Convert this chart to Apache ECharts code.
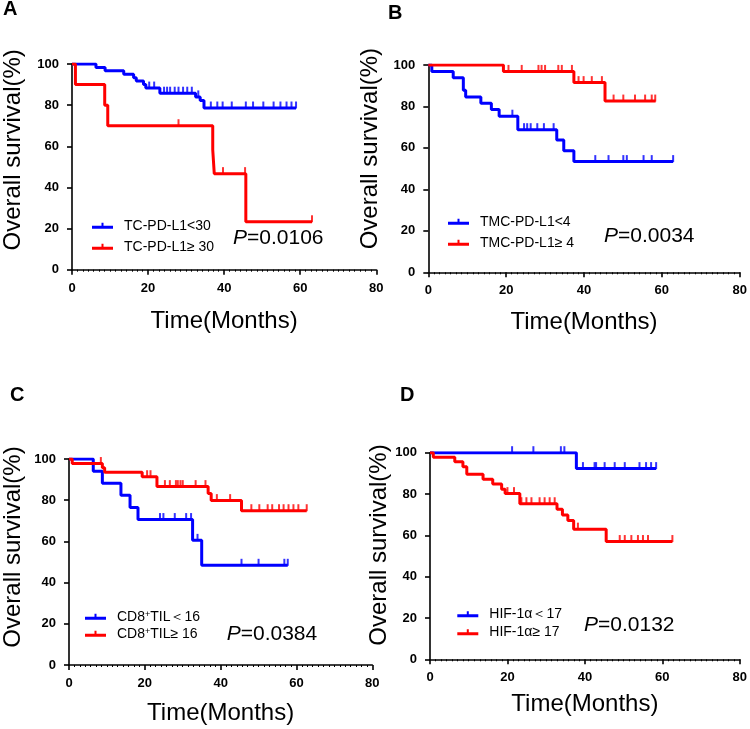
<!DOCTYPE html>
<html><head><meta charset="utf-8">
<script src="https://cdn.jsdelivr.net/npm/echarts@6/dist/echarts.min.js"></script>
<style>html,body{margin:0;padding:0;background:#fff}#c{width:750px;height:729px}</style>
</head><body><div id="c"></div>
<script>
// ---------- Panel A ----------
const A_blueT = [0, 6.3, 8.7, 13.6, 16.2, 16.9, 18.8, 19.4, 23.1, 32.5, 33.7, 34.7, 58.9];
const A_blueS = [100, 98.3, 96.7, 95, 93.3, 91.7, 90, 88.3, 85.8, 84.0, 82.3, 78.6, 78.6];
const A_blueCens = [[20.3,88.3],[21.6,88.3],[24.2,85.8],[25.0,85.8],[25.8,85.8],[27.0,85.8],[28.0,85.8],[29.2,85.8],[30.3,85.8],[31.5,85.8],[33.2,84.0],[36.5,78.6],[38.2,78.6],[39.6,78.6],[42.0,78.6],[45.7,78.6],[47.6,78.6],[50.3,78.6],[53.0,78.6],[54.8,78.6],[56.4,78.6],[57.7,78.6],[58.9,78.6]];
const A_redT = [0, 0.9, 8.6, 9.4, 37.0, 37.4, 45.7, 63.1];
const A_redS = [100, 90, 80, 70, 58.3, 46.7, 23.3, 23.3];
const A_redCens = [[28.0,70],[39.7,46.7],[45.5,46.7],[63.1,23.3]];
// ---------- Panel B ----------
const B_blueT = [0, 0.9, 6.4, 9.0, 9.6, 13.5, 16.2, 18.2, 23.0, 33.0, 34.8, 37.4, 62.9];
const B_blueS = [100, 96.9, 93.8, 87.8, 84.6, 81.6, 78.5, 75.3, 68.8, 63.8, 58.6, 53.4, 53.4];
const B_blueCens = [[21.6,75.3],[24.6,68.8],[25.4,68.8],[26.3,68.8],[28.0,68.8],[29.7,68.8],[32.2,68.8],[42.9,53.4],[46.3,53.4],[50.1,53.4],[51.0,53.4],[55.3,53.4],[57.4,53.4],[62.9,53.4]];
const B_redT = [0, 19.3, 37.4, 45.4, 58.4];
const B_redS = [100, 96.9, 91.5, 82.6, 82.6];
const B_redCens = [[20.6,96.9],[24.0,96.9],[28.3,96.9],[29.1,96.9],[30.0,96.9],[33.4,96.9],[34.3,96.9],[36.9,96.9],[38.6,91.5],[39.9,91.5],[42.0,91.5],[44.6,91.5],[47.6,82.6],[50.1,82.6],[53.1,82.6],[55.7,82.6],[57.4,82.6],[58.3,82.6]];
// ---------- Panel C ----------
const C_blueT = [0, 6.4, 8.8, 13.7, 16.1, 18.2, 32.6, 35.0, 57.7];
const C_blueS = [100, 94.1, 88.2, 82.4, 76.5, 70.6, 60.5, 48.4, 48.4];
const C_blueCens = [[24.0,70.6],[24.9,70.6],[27.9,70.6],[30.9,70.6],[32.2,70.6],[33.9,60.5],[45.5,48.4],[50.0,48.4],[56.8,48.4],[57.7,48.4]];
const C_redT = [0, 0.85, 8.8, 9.4, 19.3, 23.2, 36.7, 37.5, 45.5, 62.7];
const C_redS = [100, 97.8, 95.8, 93.6, 91.4, 86.6, 83.3, 79.8, 74.9, 74.9];
const C_redCens = [[8.4,97.8],[20.6,91.4],[21.5,91.4],[25.3,86.6],[26.6,86.6],[28.2,86.6],[28.7,86.6],[29.4,86.6],[30.0,86.6],[33.4,86.6],[36.0,86.6],[39.0,79.8],[42.5,79.8],[48.1,74.9],[50.2,74.9],[52.4,74.9],[53.6,74.9],[55.4,74.9],[56.6,74.9],[57.9,74.9],[59.2,74.9],[60.5,74.9],[62.7,74.9]];
// ---------- Panel D ----------
const D_blueT = [0, 37.8, 58.4];
const D_blueS = [100, 92.3, 92.3];
const D_blueCens = [[21.2,100],[26.7,100],[33.8,100],[34.7,100],[39.5,92.3],[42.5,92.3],[42.9,92.3],[45.1,92.3],[47.7,92.3],[50.3,92.3],[54.1,92.3],[55.8,92.3],[57.1,92.3],[58.4,92.3]];
const D_redT = [0, 0.85, 6.4, 8.5, 9.5, 13.7, 16.2, 18.5, 19.4, 23.2, 32.8, 34.2, 35.6, 37.1, 45.5, 62.6];
const D_redS = [100, 97.8, 95.6, 93.2, 89.6, 87.2, 84.9, 82.3, 80.2, 75.3, 72.6, 69.9, 67.2, 63.0, 57.0, 57.0];
const D_redCens = [[20.0,80.2],[21.7,80.2],[23.6,75.3],[24.9,75.3],[26.2,75.3],[28.3,75.3],[29.6,75.3],[30.9,75.3],[32.2,75.3],[38.2,63.0],[49.0,57.0],[50.3,57.0],[52.0,57.0],[53.7,57.0],[55.0,57.0],[56.3,57.0],[62.6,57.0]];

const xTicks = [0, 20, 40, 60, 80];
const yTicks = [0, 20, 40, 60, 80, 100];
const panelLetters = ['A', 'B', 'C', 'D'];
const legendNames = [
  ['TC-PD-L1<30', 'TC-PD-L1≥ 30'],
  ['TMC-PD-L1<4', 'TMC-PD-L1≥ 4'],
  ['CD8+TIL＜16', 'CD8+TIL≥ 16'],
  ['HIF-1α＜17', 'HIF-1α≥ 17']
];
const pValues = ['0.0106', '0.0034', '0.0384', '0.0132'];

const panels = [
  {bT:A_blueT,bS:A_blueS,bC:A_blueCens,rT:A_redT,rS:A_redS,rC:A_redCens},
  {bT:B_blueT,bS:B_blueS,bC:B_blueCens,rT:B_redT,rS:B_redS,rC:B_redCens},
  {bT:C_blueT,bS:C_blueS,bC:C_blueCens,rT:C_redT,rS:C_redS,rC:C_redCens},
  {bT:D_blueT,bS:D_blueS,bC:D_blueCens,rT:D_redT,rS:D_redS,rC:D_redCens}
];

// layout (pixels)
const grids = [
  {left:67.7, top:64, width:308.6, height:205.7},
  {left:428.3, top:65, width:311.4, height:207.3},
  {left:61.7, top:459, width:310.6, height:206},
  {left:430, top:452.7, width:310.7, height:206.6}
];
const yNameGap = [47, 46, 44, 38];
const yNameShift = [34, 40, 30, 22];
const xNameGap = [40, 38, 36, 33];
const letterPos = [[3,-1],[388,3],[10,385],[400,385]];
const legendPos = [[87,213.7],[443,209.7],[80,604.7],[452.3,602.3]];
const legendGap = [7, 7, 3, 4];
const pPos = [[233,228],[604,226],[226.7,623.5],[584,614.5]];

const FONT = 'Liberation Sans, Arial, sans-serif';
const BLUE = '#0000FF', RED = '#FF0000';
const iconPath = 'path://M0,3 L21,3 L21,6 L0,6 Z M9.5,0 L11.5,0 L11.5,3 L9.5,3 Z';

const option = {
  backgroundColor: '#fff',
  animation: false,
  grid: grids,
  xAxis: [], yAxis: [], series: [], legend: [], title: []
};

grids.forEach((g, i) => {
  option.xAxis.push({
    type: 'value', gridIndex: i, min: xTicks[0], max: xTicks[xTicks.length-1], interval: 20,
    name: 'Time(Months)', nameLocation: 'middle', nameGap: xNameGap[i],
    nameTextStyle: {fontFamily: FONT, fontSize: 24, color: '#000'},
    axisLine: {lineStyle: {color: '#000', width: 1.6}},
    axisTick: {length: 5, lineStyle: {color: '#000', width: 1.6}},
    minorTick: {show: true, splitNumber: 14, length: 2, lineStyle: {color: '#000', width: 1}},
    axisLabel: {fontFamily: FONT, fontWeight: 'bold', fontSize: 13, color: '#000', margin: 12},
    splitLine: {show: false}
  });
  option.yAxis.push({
    type: 'value', gridIndex: i, min: yTicks[0], max: yTicks[yTicks.length-1], interval: 20,
    name: 'Overall survival(%)', nameLocation: 'middle', nameGap: yNameGap[i],
    nameTextStyle: {fontFamily: FONT, fontSize: 24, color: '#000', padding: [0, 0, 0, yNameShift[i]]},
    axisLine: {lineStyle: {color: '#000', width: 1.6}},
    axisTick: {length: 5, lineStyle: {color: '#000', width: 1.6}},
    axisLabel: {fontFamily: FONT, fontWeight: 'bold', fontSize: 13, color: '#000', margin: 13},
    splitLine: {show: false}
  });
  const p = panels[i];
  const names = legendNames[i];
  const mk = (T, S) => T.map((t, k) => [t, S[k]]);
  option.series.push({
    type: 'line', name: names[0], xAxisIndex: i, yAxisIndex: i, step: 'end',
    data: mk(p.bT, p.bS), showSymbol: false, color: BLUE,
    lineStyle: {color: BLUE, width: 3}, z: 3
  });
  option.series.push({
    type: 'line', name: names[1], xAxisIndex: i, yAxisIndex: i, step: 'end',
    data: mk(p.rT, p.rS), showSymbol: false, color: RED,
    lineStyle: {color: RED, width: 3}, z: 3
  });
  option.series.push({
    type: 'scatter', name: 'censB' + i, xAxisIndex: i, yAxisIndex: i,
    data: p.bC, symbol: 'rect', symbolSize: [2, 7], symbolOffset: [0, -3],
    itemStyle: {color: BLUE}, z: 4
  });
  option.series.push({
    type: 'scatter', name: 'censR' + i, xAxisIndex: i, yAxisIndex: i,
    data: p.rC, symbol: 'rect', symbolSize: [2, 7], symbolOffset: [0, -3],
    itemStyle: {color: RED}, z: 4
  });
  option.legend.push({
    data: names, orient: 'vertical', left: legendPos[i][0], top: legendPos[i][1],
    itemWidth: 21, itemHeight: 6, itemGap: legendGap[i], icon: iconPath, selectedMode: false,
    formatter: (n) => n.replace('8+', '8{sup|+}'),
    textStyle: {fontFamily: FONT, fontSize: 14, color: '#000', lineHeight: 14, padding: [0, 0, 0, 6],
      rich: {sup: {fontSize: 9, verticalAlign: 'top', padding: [0, 0, 6, 0], fontFamily: FONT, color: '#000'}}}
  });
  option.title.push({
    text: panelLetters[i], left: letterPos[i][0], top: letterPos[i][1], padding: 0,
    textStyle: {fontFamily: FONT, fontWeight: 'bold', fontSize: 20, color: '#000'}
  });
  option.title.push({
    text: '{i|P}{n|=' + pValues[i] + '}', left: pPos[i][0], top: pPos[i][1], padding: 0,
    textStyle: {fontWeight: 'normal', rich: {
      i: {fontFamily: FONT, fontStyle: 'italic', fontWeight: 'normal', fontSize: 21, color: '#000'},
      n: {fontFamily: FONT, fontWeight: 'normal', fontSize: 21, color: '#000'}
    }}
  });
});

const chart = echarts.init(document.getElementById('c'), null, {renderer: 'canvas'});
chart.setOption(option);
</script>
</body></html>
